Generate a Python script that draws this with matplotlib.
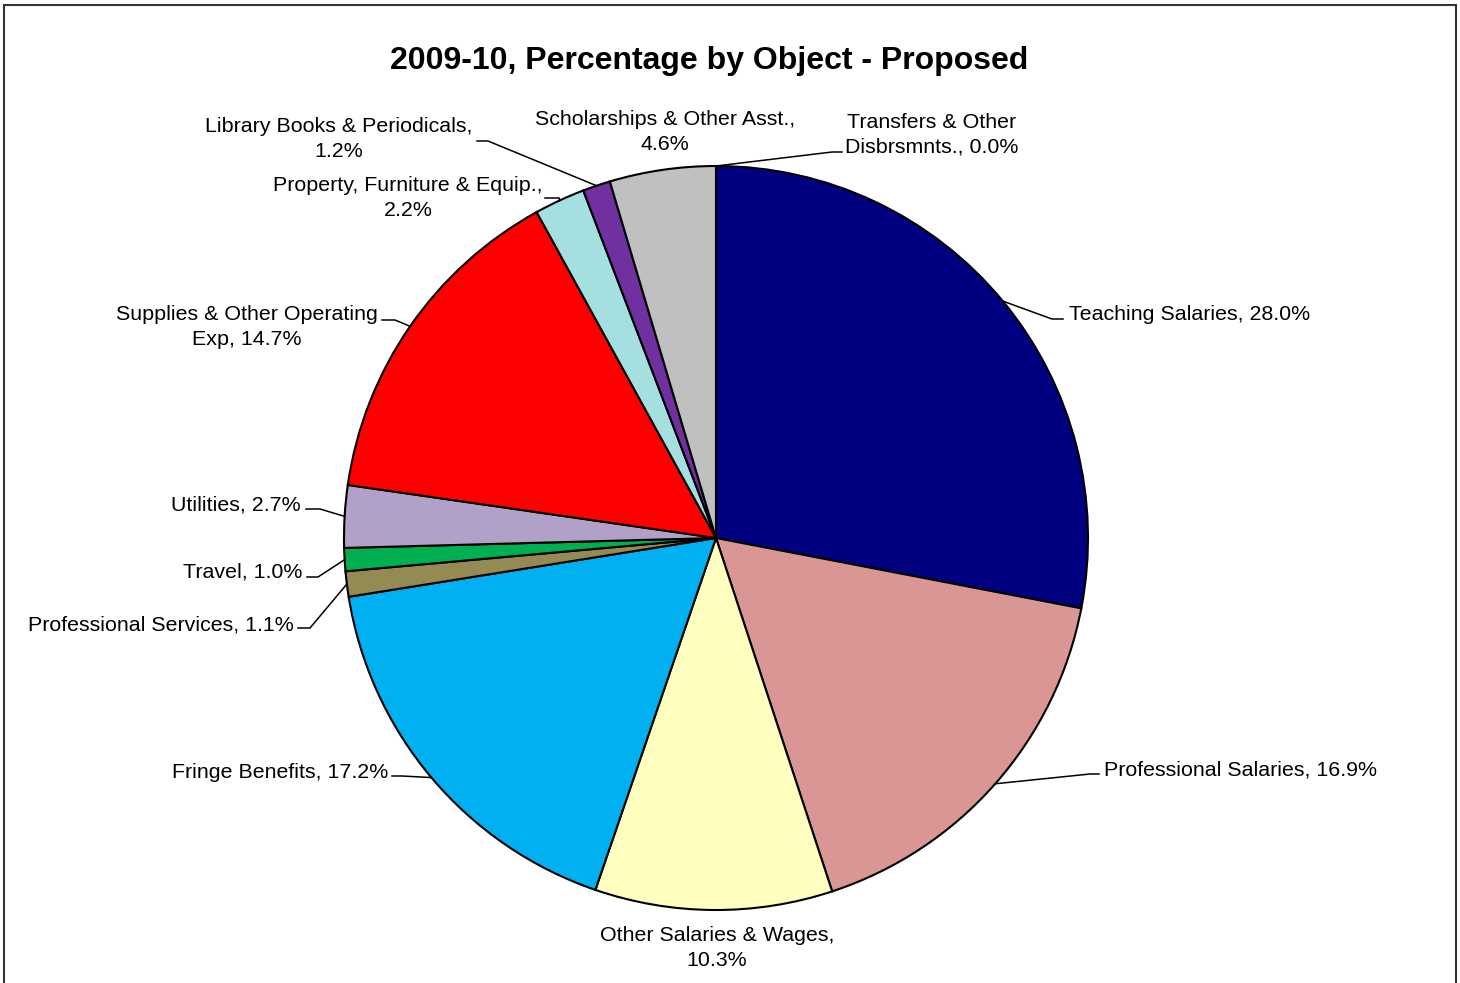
import numpy as np
import matplotlib
matplotlib.use("Agg")
import matplotlib.pyplot as plt
from matplotlib.patches import Rectangle

# Data (percent of total), clockwise from the top
labels = ["Teaching Salaries, 28.0%",
          "Professional Salaries, 16.9%",
          "Other Salaries & Wages,\n10.3%",
          "Fringe Benefits, 17.2%",
          "Professional Services, 1.1%",
          "Travel, 1.0%",
          "Utilities, 2.7%",
          "Supplies & Other Operating\nExp, 14.7%",
          "Property, Furniture & Equip.,\n2.2%",
          "Library Books & Periodicals,\n1.2%",
          "Scholarships & Other Asst.,\n4.6%",
          "Transfers & Other\nDisbrsmnts., 0.0%"]
values = [28.0, 16.9, 10.3, 17.2, 1.1, 1.0, 2.7, 14.7, 2.2, 1.2, 4.6, 0.0]
colors = ["#000080", "#D99694", "#FFFFC0", "#00B0F0", "#948A54", "#00B050",
          "#B1A0C7", "#FF0000", "#A5DFE0", "#7030A0", "#C0C0C0", "#FFFFFF"]

W, H = 1460, 983


def px(x, y):
    # image pixel coords (y down) -> axes data coords (y up)
    return (x, H - y)


# label layout: text position, alignment, leader end / elbow (pixels)
text_pos = [(1069, 315), (1104, 770), (717, 948), (388, 772), (294, 625),
            (302, 572), (301, 505), (247, 327), (408, 198), (339, 139),
            (665, 132), (932, 135)]
text_ha = ["left", "left", "center", "right", "right", "right", "right",
           "center", "center", "center", "center", "center"]
leaders = {0: [(1063, 319), (1052, 319)],
           1: [(1099, 774), (1090, 774)],
           3: [(392, 776), (402, 776)],
           4: [(298, 628), (310, 628)],
           5: [(307, 577), (318, 577)],
           6: [(306, 509), (320, 509)],
           7: [(382, 320), (395, 320)],
           8: [(545, 198), (559, 198)],
           9: [(477, 141), (488, 141)],
           11: [(842, 152), (832, 152)]}

plt.rcParams['font.family'] = ['Liberation Sans', 'DejaVu Sans']

fig = plt.figure(figsize=(W / 100, H / 100), dpi=100)
ax = fig.add_axes([0, 0, 1, 1])

wedges, _ = ax.pie(values, colors=colors, startangle=90, counterclock=False,
                   center=px(716, 538), radius=372,
                   wedgeprops=dict(edgecolor="black", linewidth=1.5))
ax.set_xlim(0, W)
ax.set_ylim(0, H)
ax.set_aspect("auto")
ax.axis("off")

for i, lab in enumerate(labels):
    x, y = px(*text_pos[i])
    ax.text(x, y, lab, ha=text_ha[i], va="center", multialignment="center",
            fontsize=15.4, color="black", linespacing=1.38)
    if i in leaders:
        w = wedges[i]
        ang = np.deg2rad((w.theta1 + w.theta2) / 2)
        ax0 = w.center[0] + w.r * np.cos(ang)
        ay0 = w.center[1] + w.r * np.sin(ang)
        (ex, ey), (bx, by) = [px(*p) for p in leaders[i]]
        ax.plot([ex, bx, ax0], [ey, by, ay0], color="black", lw=1.1,
                solid_joinstyle="miter")

ax.text(*px(709, 61), "2009-10, Percentage by Object - Proposed",
        ha="center", va="center", fontsize=23, fontweight="bold")

# outer chart frame
fig.patches.append(Rectangle((4 / W, -0.05), 1452 / W, (H - 5) / H + 0.05,
                             transform=fig.transFigure, fill=False,
                             edgecolor="#333333", lw=1.5))

fig.savefig("out.png", dpi=100)
